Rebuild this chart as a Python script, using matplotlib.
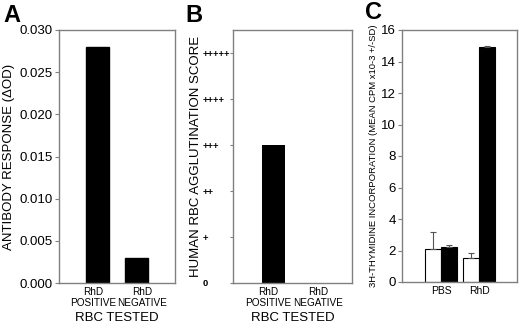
import matplotlib
matplotlib.use("Agg")
import matplotlib.pyplot as plt
import numpy as np

plt.rcParams["font.family"] = ["Liberation Sans", "DejaVu Sans"]

# panel A
rbc_groups = ["RhD\nPOSITIVE", "RhD\nNEGATIVE"]
antibody_od = [0.028, 0.003]
# panel B
agglutination = [3, 0]
score_labels = ["0", "+", "++", "+++", "++++", "+++++"]
# panel C
stim_groups = ["PBS", "RhD"]
thy_open = [2.1, 1.5]
thy_open_sd = [1.05, 0.35]
thy_filled = [2.2, 14.95]
thy_filled_sd = [0.15, 0.05]

W, H = 520, 328
SPINE = "#808080"


def px_axes(fig, l, r, t, b):
    return fig.add_axes([l / W, (H - b) / H, (r - l) / W, (b - t) / H])


def style(ax):
    for s in ax.spines.values():
        s.set_color(SPINE)
        s.set_linewidth(1.0)
    ax.tick_params(axis="y", direction="out", length=3, width=0.8, color=SPINE, pad=1.5)
    ax.tick_params(axis="x", length=0, pad=3)


fig = plt.figure(figsize=(W / 100, H / 100), dpi=100)

# ---------- A ----------
ax = px_axes(fig, 59, 175, 30, 283)
style(ax)
x = np.arange(len(rbc_groups))
ax.bar(x, antibody_od, width=0.6, color="black", edgecolor="black")
ax.set_xlim(-1.0, 2.0)
ax.set_ylim(0, 0.030)
ax.set_yticks(np.arange(0, 0.0301, 0.005))
ax.set_yticklabels([f"{v:.3f}" for v in np.arange(0, 0.0301, 0.005)], fontsize=9.5)
ax.set_xticks(np.array([-0.12, 1.16]))
ax.set_xticklabels(rbc_groups, fontsize=7.2, linespacing=1.05)
ax.set_xlabel("RBC TESTED", fontsize=9.5, labelpad=3)
ax.set_ylabel("ANTIBODY RESPONSE (ΔOD)", fontsize=9.5)
ax.yaxis.set_label_coords(-0.38, 0.5)
fig.text(3 / W, 1 - 4 / H, "A", fontsize=17, fontweight="bold", ha="left", va="top")

# ---------- B ----------
ax = px_axes(fig, 233, 352, 30, 283)
style(ax)
ax.bar(x, agglutination, width=0.6, color="black", linewidth=0)
ax.set_xlim(-1.05, 2.04)
ax.set_ylim(0, 5.5)
ax.set_yticks(range(len(score_labels)))
ax.set_yticklabels(score_labels, fontsize=6.8, fontweight="bold", ha="left")
ax.tick_params(axis="y", length=2, pad=20)
ax.set_xticks(np.array([-0.14, 1.16]))
ax.set_xticklabels(rbc_groups, fontsize=7.2, linespacing=1.05)
ax.set_xlabel("RBC TESTED", fontsize=9.5, labelpad=3)
ax.set_ylabel("HUMAN RBC AGGLUTINATION SCORE", fontsize=9.5)
ax.yaxis.set_label_coords(-0.26, 0.5)
fig.text(185 / W, 1 - 4 / H, "B", fontsize=17, fontweight="bold", ha="left", va="top")

# ---------- C ----------
ax = px_axes(fig, 402, 517, 30, 282)
style(ax)
xc = np.arange(len(stim_groups))
bw = 0.42
ax.bar(xc - bw / 2, thy_open, width=bw, color="white", edgecolor="black", linewidth=0.8,
       yerr=[np.zeros(len(thy_open)), thy_open_sd], error_kw=dict(ecolor="#555555", elinewidth=0.8, capsize=2, capthick=0.8))
ax.bar(xc + bw / 2, thy_filled, width=bw, color="black", edgecolor="black", linewidth=0.8,
       yerr=[np.zeros(len(thy_filled)), thy_filled_sd], error_kw=dict(ecolor="#555555", elinewidth=0.8, capsize=2, capthick=0.8))
ax.set_xlim(-1.03, 2.0)
ax.set_ylim(0, 16)
ax.set_yticks(range(0, 17, 2))
ax.set_yticklabels([str(v) for v in range(0, 17, 2)], fontsize=9.5)
ax.set_xticks(xc)
ax.set_xticklabels(stim_groups, fontsize=7.5)
ax.set_ylabel("3H-THYMIDINE INCORPORATION (MEAN CPM x10-3 +/-SD)", fontsize=6.8)
ax.yaxis.set_label_coords(-0.21, 0.5)
fig.text(365 / W, 1 - 1 / H, "C", fontsize=17, fontweight="bold", ha="left", va="top")

fig.savefig("out.png", dpi=100)
